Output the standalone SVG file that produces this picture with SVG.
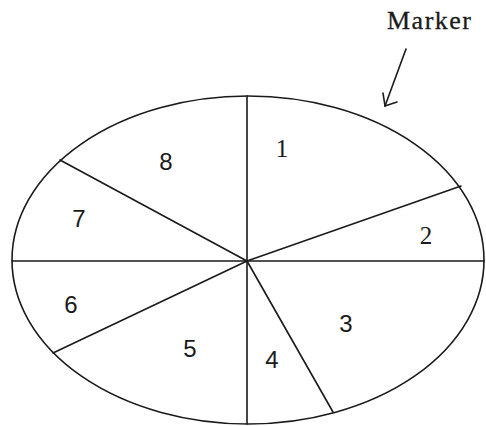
<svg xmlns="http://www.w3.org/2000/svg" width="486" height="426" viewBox="0 0 486 426">
  <style>
    .ln { stroke: #1a1a1a; stroke-width: 1.6; fill: none; stroke-linecap: round; }
    .sans { font-family: "Liberation Sans", Arial, sans-serif; font-size: 24px; fill: #1a1a1a; text-anchor: middle; }
    .serif { font-family: "Liberation Serif", "Times New Roman", serif; font-size: 25px; fill: #1a1a1a; text-anchor: middle; }
    .lbl { font-family: "Liberation Serif", "Times New Roman", serif; font-size: 26px; fill: #1a1a1a; text-anchor: middle; stroke: #1a1a1a; stroke-width: 0.3; }
  </style>
  <rect width="486" height="426" fill="#ffffff"/>
  <g id="ellipse">
    <ellipse class="ln" cx="248" cy="260" rx="236" ry="164"/>
  </g>
  <g id="connectors">
    <line class="ln" x1="247" y1="96" x2="247" y2="424"/>
    <line class="ln" x1="12" y1="261" x2="484" y2="261"/>
    <line class="ln" x1="60" y1="160" x2="247" y2="261"/>
    <line class="ln" x1="461" y1="186" x2="247" y2="261"/>
    <line class="ln" x1="53" y1="353" x2="247" y2="261"/>
    <line class="ln" x1="333" y1="412" x2="247" y2="261"/>
  </g>
  <g id="seg1"><text class="serif" x="282" y="157">1</text></g>
  <g id="seg2"><text class="serif" x="426" y="244">2</text></g>
  <g id="seg3"><text class="sans" x="346" y="332">3</text></g>
  <g id="seg4"><text class="sans" x="272" y="368">4</text></g>
  <g id="seg5"><text class="sans" x="190" y="357">5</text></g>
  <g id="seg6"><text class="sans" x="71" y="313">6</text></g>
  <g id="seg7"><text class="sans" x="79" y="227">7</text></g>
  <g id="seg8"><text class="sans" x="166" y="170">8</text></g>
  <g id="marker">
    <text class="lbl" x="429" y="29" textLength="84" lengthAdjust="spacing">Marker</text>
    <line class="ln" x1="406" y1="49" x2="385" y2="106"/>
    <polyline class="ln" points="383,93 385,106 397,102"/>
  </g>
</svg>
